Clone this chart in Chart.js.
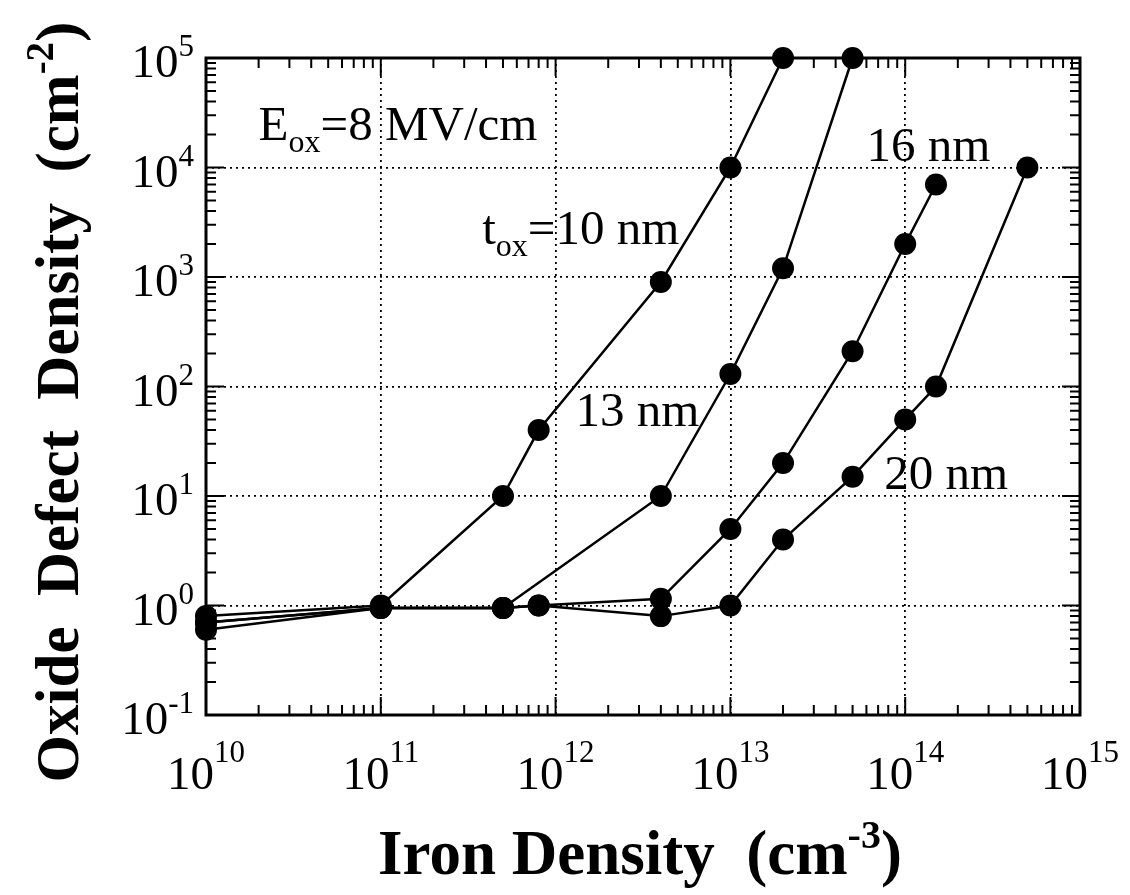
<!DOCTYPE html>
<html>
<head>
<meta charset="utf-8">
<script src="https://cdn.jsdelivr.net/npm/chart.js@4/dist/chart.umd.min.js"></script>
<style>
html, body { margin: 0; padding: 0; background: #fff; }
#wrap { width: 1130px; height: 895px; }
</style>
</head>
<body>
<div id="wrap"><canvas id="chart"></canvas></div>
<script>
// iron density (cm-3) vs oxide defect density (cm-2), one pair per oxide thickness
const iron10 = [1e10, 1e11, 5e11, 8e11, 4e12, 1e13, 2e13];
const defect10 = [0.8, 1.0, 10, 40, 900, 1e4, 1e5];

const iron13 = [1e10, 1e11, 5e11, 4e12, 1e13, 2e13, 5e13];
const defect13 = [0.6, 0.95, 0.95, 10, 130, 1200, 1e5];

const iron16 = [1e10, 1e11, 5e11, 8e11, 4e12, 1e13, 2e13, 5e13, 1e14, 1.5e14];
const defect16 = [0.7, 0.95, 0.95, 1.0, 1.15, 5, 20, 210, 2000, 7000];

const iron20 = [1e10, 1e11, 5e11, 8e11, 4e12, 1e13, 2e13, 5e13, 1e14, 1.5e14, 5e14];
const defect20 = [0.7, 0.95, 0.95, 1.0, 0.8, 1.0, 4, 15, 50, 100, 1e4];

// decade exponents used for ticks / labels
const xDecades = [10, 11, 12, 13, 14, 15];
const yDecades = [-1, 0, 1, 2, 3, 4, 5];

const serif = '"Liberation Serif", "DejaVu Serif", serif';

// text notes anchored in data space
const notes = [
    { x: 2e10, y: 1.8e4, parts: [['E', 49, 0], ['ox', 32, 12], ['=8 MV/cm', 49, 0]] },
    { x: 3.8e11, y: 2000, parts: [['t', 49, 0], ['ox', 32, 12], ['=10 nm', 49, 0]] },
    { x: 1.3e12, y: 44, parts: [['13 nm', 49, 0]] },
    { x: 6e13, y: 1.15e4, parts: [['16 nm', 49, 0]] },
    { x: 7.6e13, y: 11.7, parts: [['20 nm', 49, 0]] }
];

function toPoints(xs, ys) {
    return xs.map((x, i) => ({ x: x, y: ys[i] }));
}

function series(xs, ys) {
    return {
        data: toPoints(xs, ys),
        showLine: true,
        borderColor: '#000',
        borderWidth: 2.5,
        backgroundColor: '#000',
        pointBackgroundColor: '#000',
        pointBorderWidth: 0,
        pointRadius: 11,
        clip: false
    };
}

// draw a run of text pieces with their own size / vertical shift
function drawParts(ctx, parts, x, y, align, weight) {
    let total = 0;
    parts.forEach(p => {
        ctx.font = weight + ' ' + p[1] + 'px ' + serif;
        total += ctx.measureText(p[0]).width;
    });
    let cx = x;
    if (align === 'center') cx = x - total / 2;
    if (align === 'right') cx = x - total;
    parts.forEach(p => {
        ctx.font = weight + ' ' + p[1] + 'px ' + serif;
        ctx.fillText(p[0], cx, y + p[2]);
        cx += ctx.measureText(p[0]).width;
    });
}

const decorations = {
    id: 'decorations',
    afterDraw(chart) {
        const ctx = chart.ctx;
        const xs = chart.scales.x;
        const ys = chart.scales.y;
        const a = chart.chartArea;
        ctx.save();
        ctx.fillStyle = '#000';
        ctx.strokeStyle = '#000';
        ctx.textAlign = 'left';
        ctx.textBaseline = 'alphabetic';

        // inside ticks on all four sides
        ctx.lineWidth = 2;
        ctx.beginPath();
        for (let d = xDecades[0]; d <= xDecades[xDecades.length - 1]; d++) {
            for (let k = 1; k <= 9; k++) {
                const v = k * Math.pow(10, d);
                if (v > Math.pow(10, xDecades[xDecades.length - 1])) break;
                const px = xs.getPixelForValue(v);
                const len = k === 1 ? 18 : 10;
                ctx.moveTo(px, a.bottom); ctx.lineTo(px, a.bottom - len);
                ctx.moveTo(px, a.top); ctx.lineTo(px, a.top + len);
            }
        }
        for (let d = yDecades[0]; d <= yDecades[yDecades.length - 1]; d++) {
            for (let k = 1; k <= 9; k++) {
                const v = k * Math.pow(10, d);
                if (v > Math.pow(10, yDecades[yDecades.length - 1])) break;
                const py = ys.getPixelForValue(v);
                const len = k === 1 ? 18 : 10;
                ctx.moveTo(a.left, py); ctx.lineTo(a.left + len, py);
                ctx.moveTo(a.right, py); ctx.lineTo(a.right - len, py);
            }
        }
        ctx.stroke();

        // frame
        ctx.lineWidth = 3;
        ctx.strokeRect(a.left, a.top, a.right - a.left, a.bottom - a.top);

        // tick labels with superscript exponents
        xDecades.forEach(e => {
            const px = xs.getPixelForValue(Math.pow(10, e));
            drawParts(ctx, [['10', 47, 0], [String(e), 31, -27]], px, a.bottom + 74, 'center', 'normal');
        });
        yDecades.forEach(e => {
            const py = ys.getPixelForValue(Math.pow(10, e));
            drawParts(ctx, [['10', 47, 0], [String(e), 31, -21]], a.left - 12, py + 19, 'right', 'normal');
        });

        // axis titles
        drawParts(ctx, [['Iron Density  (cm', 63, 0], ['-3', 40, -26], [')', 63, 0]],
            (a.left + a.right) / 2 - 3, 874, 'center', 'bold');
        ctx.save();
        ctx.translate(78, 402);
        ctx.rotate(-Math.PI / 2);
        drawParts(ctx, [['Oxide  Defect  Density  (cm', 61, 0], ['-2', 39, -25], [')', 61, 0]],
            0, 0, 'center', 'bold');
        ctx.restore();

        // notes
        notes.forEach(n => {
            drawParts(ctx, n.parts, xs.getPixelForValue(n.x), ys.getPixelForValue(n.y), 'left', 'normal');
        });
        ctx.restore();
    }
};

function decadeTicks(list) {
    return function (scale) {
        scale.ticks = list.map(e => ({ value: Math.pow(10, e) }));
    };
}

new Chart(document.getElementById('chart'), {
    type: 'scatter',
    data: {
        datasets: [
            series(iron10, defect10),
            series(iron13, defect13),
            series(iron16, defect16),
            series(iron20, defect20)
        ]
    },
    options: {
        responsive: true,
        maintainAspectRatio: false,
        animation: false,
        layout: { padding: { left: 206, top: 58, right: 50, bottom: 180 } },
        plugins: { legend: { display: false }, tooltip: { enabled: false } },
        scales: {
            x: {
                type: 'logarithmic',
                min: Math.pow(10, xDecades[0]),
                max: Math.pow(10, xDecades[xDecades.length - 1]),
                afterBuildTicks: decadeTicks(xDecades),
                ticks: { display: false },
                grid: { color: '#000', lineWidth: 1.8, drawTicks: false },
                border: { display: false, dash: [2, 4] }
            },
            y: {
                type: 'logarithmic',
                min: Math.pow(10, yDecades[0]),
                max: Math.pow(10, yDecades[yDecades.length - 1]),
                afterBuildTicks: decadeTicks(yDecades),
                ticks: { display: false },
                grid: { color: '#000', lineWidth: 1.8, drawTicks: false },
                border: { display: false, dash: [2, 4] }
            }
        }
    },
    plugins: [decorations]
});
</script>
</body>
</html>
